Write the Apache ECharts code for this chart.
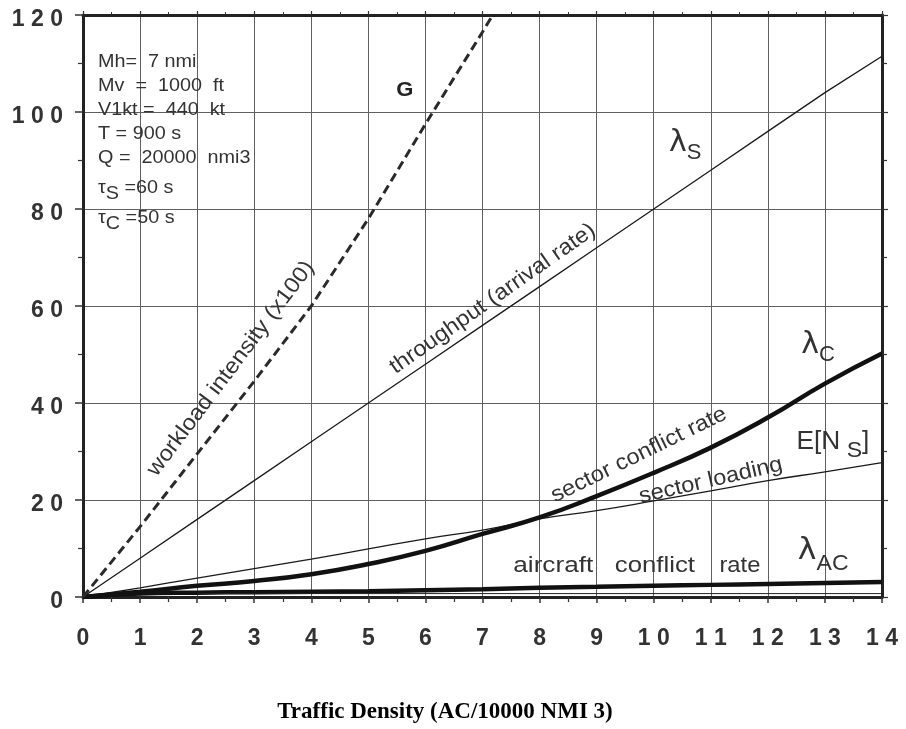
<!DOCTYPE html>
<html><head><meta charset="utf-8">
<script src="https://cdn.jsdelivr.net/npm/echarts@6/dist/echarts.min.js"></script>
<style>html,body{margin:0;padding:0;background:#fff}#c{width:906px;height:729px}</style>
</head><body><div id="c"></div>
<script>
// ---- data ----
const xValues = [0,1,2,3,4,5,6,7,8,9,10,11,12,13,14];
const throughput = [0,8,16,24,32,40,48,56,64,72,80,88,96,104,111.5];
const sectorLoading = [0,1.9,3.9,5.85,7.8,9.9,12,13.8,16.1,17.8,19.8,21.9,24,25.8,27.7];
const sectorConflict = [0,1.1,2.3,3.3,4.7,6.8,9.5,13,16.4,20.8,25.6,30.8,37,44,50.2];
const aircraftConflict = [0,0.7,0.9,1.0,1.1,1.2,1.4,1.6,1.9,2.1,2.3,2.5,2.7,2.9,3.1];
const workloadX = [0,1,2,3,4,5,6,7,7.18];
const workload = [0,14.5,29.5,44.5,60,78,97.5,116.5,120];
const baseTraceX = [2,14];
const baseTrace = [0.7,0.7];
const xTicks = [0,1,2,3,4,5,6,7,8,9,10,11,12,13,14];
const yTicks = [0,20,40,60,80,100,120];
const params = ['Mh=  7 nmi','Mv  =  1000  ft','V1kt =  440  kt','T = 900 s','Q =  20000  nmi3'];

const pairs = (xs, ys) => xs.map((x,i)=>[x, ys[i]]);
const spaced = v => String(v).split('').join(' ');
const TXT = '#333';
const LINE = '#1a1a1a';
const GRIDC = '#606060';

const chart = echarts.init(document.getElementById('c'), null, {renderer:'canvas'});
const axisCommonX = {
  type:'value', min:0, max:14, interval:1,
  axisLine:{show:true, onZero:false, lineStyle:{color:'#222', width:3}},
  axisTick:{show:true, inside:false, length:6, lineStyle:{color:'#333', width:1.5}},
  minorTick:{show:true, splitNumber:2, length:5, lineStyle:{color:'#333', width:1.2}},
  minorSplitLine:{show:false}
};
const axisCommonY = {
  type:'value', min:0, max:120, interval:20,
  axisLine:{show:true, onZero:false, lineStyle:{color:'#222', width:3}},
  axisTick:{show:true, inside:false, length:8, lineStyle:{color:'#333', width:1.5}},
  minorTick:{show:true, splitNumber:2, length:5, lineStyle:{color:'#333', width:1.2}},
  minorSplitLine:{show:false}
};
const option = {
  animation:false,
  backgroundColor:'#fff',
  grid:{left:83, right:24, top:15, bottom:132},
  xAxis:[
    Object.assign({}, axisCommonX, {
      position:'bottom',
      axisLabel:{show:true, margin:30, fontFamily:'Liberation Sans', fontWeight:'bold', fontSize:23, color:TXT,
        formatter:v => xTicks.includes(v) ? spaced(v) : ''},
      splitLine:{show:true, lineStyle:{color:GRIDC, width:1}}
    }),
    Object.assign({}, axisCommonX, {
      position:'top', axisLabel:{show:false}, splitLine:{show:false},
      axisTick:{show:true, length:4, lineStyle:{color:'#333', width:1.2}},
      minorTick:{show:true, splitNumber:2, length:3, lineStyle:{color:'#333', width:1}}
    })
  ],
  yAxis:[
    Object.assign({}, axisCommonY, {
      position:'left',
      axisLabel:{show:true, margin:20, color:TXT,
        formatter:v => yTicks.includes(v) ? '{a|' + spaced(v) + '}' : '',
        rich:{a:{fontFamily:'Liberation Sans', fontWeight:'bold', fontSize:23, color:TXT, padding:[9,0,0,0]}}},
      splitLine:{show:true, lineStyle:{color:GRIDC, width:1}}
    }),
    Object.assign({}, axisCommonY, {
      position:'right', axisLabel:{show:false}, splitLine:{show:false},
      axisTick:{show:true, length:6, lineStyle:{color:'#333', width:1.2}}
    })
  ],
  series:[
    {name:'workload intensity (x100)', type:'line', data:pairs(workloadX, workload), symbol:'none', smooth:false,
      lineStyle:{color:'#2a2a2a', width:3, type:[9,5]}, clip:true, z:5},
    {name:'throughput (arrival rate)', type:'line', data:pairs(xValues, throughput), symbol:'none',
      lineStyle:{color:LINE, width:1.3}},
    {name:'sector loading', type:'line', data:pairs(xValues, sectorLoading), symbol:'none', smooth:true,
      lineStyle:{color:LINE, width:1.3}},
    {name:'sector conflict rate', type:'line', data:pairs(xValues, sectorConflict), symbol:'none', smooth:true,
      lineStyle:{color:'#111', width:4.5}},
    {name:'aircraft conflict rate', type:'line', data:pairs(xValues, aircraftConflict), symbol:'none', smooth:true,
      lineStyle:{color:'#111', width:4.5}},
    {name:'base trace', type:'line', data:pairs(baseTraceX, baseTrace), symbol:'none',
      lineStyle:{color:'#222', width:1}}
  ]
};
chart.setOption(option);

const P = (x,y) => chart.convertToPixel({xAxisIndex:0, yAxisIndex:0}, [x,y]);
const deg = d => d*Math.PI/180;
const g = [];
function txt(x, y, text, o) {
  const p = P(x, y);
  g.push({type:'text', x:p[0], y:p[1], rotation: o.rot ? deg(o.rot) : 0, scaleX: o.sx || 1, z:100,
    style:Object.assign({text:text, fill:TXT, fontFamily:'Liberation Sans', fontSize:22,
      align:'center', verticalAlign:'middle'}, o.style || {})});
}
// rotated curve labels
txt(2.59, 47.1, 'workload intensity (x100)', {rot:53, sx:1.08});
txt(7.18, 61.5, 'throughput (arrival rate)', {rot:35, sx:1.07});
txt(9.74, 29.3, 'sector conflict rate', {rot:26, sx:1.08});
txt(11.0, 24.0, 'sector loading', {rot:13, sx:1.07});
txt(8.24, 6.4, 'aircraft', {sx:1.19});
txt(10.02, 6.4, 'conflict', {sx:1.17});
txt(11.51, 6.4, 'rate', {sx:1.08});
txt(5.64, 104.5, 'G', {style:{fontWeight:'bold', fontSize:21, fill:'#222'}, sx:1.05});
const rich = {
  l:{fontSize:30, fontFamily:'DejaVu Sans', fill:TXT, padding:[0,0,6,0]},
  s:{fontSize:22, fontFamily:'Liberation Sans', fill:TXT, padding:[14,0,0,0]},
  s2:{fontSize:22, fontFamily:'Liberation Sans', fill:TXT, padding:[20,0,0,0]},
  n:{fontSize:25, fontFamily:'Liberation Sans', fill:TXT, padding:[0,0,4,0]}
};
txt(10.55, 93.0, '{l|λ}{s|S}', {style:{rich:rich}});
txt(12.88, 51.3, '{l|λ}{s|C}', {style:{rich:rich}});
txt(13.14, 31.6, '{n|E[N}{s| S}{n|]}', {style:{rich:rich}, sx:1.05});
txt(12.97, 8.8, '{l|λ}{s2|AC}', {style:{rich:rich}, sx:1.05});
// parameter block
const py = [62, 86, 110, 134, 158];
params.forEach((s,i) => {
  const p = chart.convertFromPixel({xAxisIndex:0, yAxisIndex:0}, [98, py[i]]);
  txt(p[0], p[1], s, {style:{align:'left', fontSize:18}, sx:1.1});
});
const tauRich = {t:{fontSize:18, fontFamily:'Liberation Sans', fill:TXT}, s:{fontSize:18, fontFamily:'Liberation Sans', fill:TXT, padding:[12,0,0,0]}};
[['S','=60 s',188],['C','=50 s',218]].forEach(a => {
  const p = chart.convertFromPixel({xAxisIndex:0, yAxisIndex:0}, [98, a[2]]);
  txt(p[0], p[1], '{t|τ}{s|'+a[0]+'}{t| '+a[1]+'}', {style:{align:'left', rich:tauRich}, sx:1.1});
});
// axis title
g.push({type:'text', x:445, y:712, z:100, style:{text:'Traffic Density (AC/10000 NMI 3)', fill:'#000',
  fontFamily:'Liberation Serif', fontWeight:'bold', fontSize:23, align:'center', verticalAlign:'middle'}});
chart.setOption({graphic:g});
</script></body></html>
